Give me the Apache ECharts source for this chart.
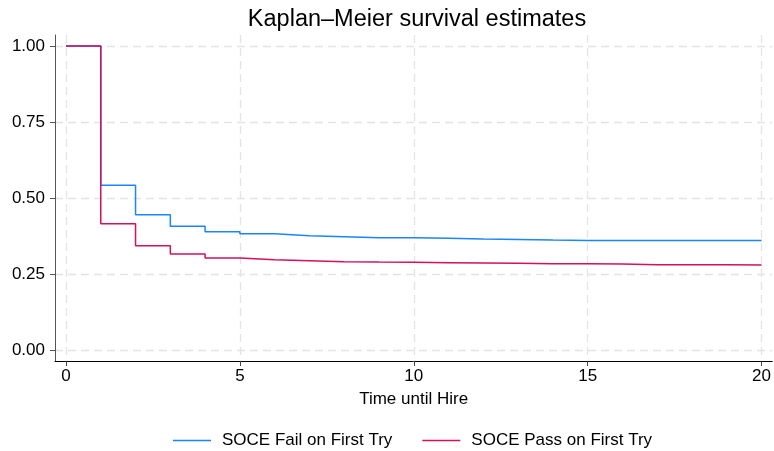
<!DOCTYPE html>
<html>
<head>
<meta charset="utf-8">
<script src="https://cdn.jsdelivr.net/npm/echarts@6/dist/echarts.min.js"></script>
<style>html,body{margin:0;padding:0;background:#fff}#c{width:774px;height:451px}</style>
</head>
<body>
<div id="c"></div>
<script>
var times = [0,1,2,3,4,5,6,7,8,9,10,11,12,13,14,15,16,17,18,19,20];
var failValues = [1.000,0.5425,0.446,0.408,0.390,0.383,0.377,0.3737,0.3704,0.3700,0.3685,0.3662,0.3645,0.3625,0.3615,0.3615,0.3615,0.3615,0.3615,0.3615,0.3615];
var passValues = [1.000,0.4165,0.344,0.317,0.3038,0.298,0.295,0.2916,0.2906,0.2897,0.2883,0.2874,0.2862,0.285,0.2845,0.284,0.2818,0.2818,0.2818,0.2808,0.2808];
var xTicks = [0,5,10,15,20];
var yTicks = [0,0.25,0.5,0.75,1];
var seriesNames = ['SOCE Fail on First Try','SOCE Pass on First Try'];
var colors = ['#1a85ff','#d41159'];

function pairs(vals){ return times.map(function(t,i){ return [t, vals[i]]; }); }

var FONT = 'Liberation Sans, Arial, sans-serif';
var chart = echarts.init(document.getElementById('c'), null, {renderer:'canvas'});
chart.setOption({
  animation:false,
  backgroundColor:'#fff',
  textStyle:{fontFamily:FONT},
  title:{text:'Kaplan\u2013Meier survival estimates', left:412, top:3, textAlign:'center',
    textStyle:{fontFamily:FONT, fontSize:23.5, fontWeight:'normal', color:'#000'}},
  legend:{left:168, top:427, itemWidth:38, itemHeight:10, itemGap:30,
    textStyle:{fontFamily:FONT, fontSize:17, color:'#000', padding:[0,0,0,6]},
    data:seriesNames.map(function(n,i){return {name:n, icon:'path://M0,0 L38,0 L38,1.4 L0,1.4 Z', itemStyle:{color:colors[i]}};})},
  grid:{left:55, right:1.3, top:35, bottom:90, containLabel:false},
  xAxis:{type:'value', min:-0.316, max:20.307,
    name:'Time until Hire', nameLocation:'middle', nameGap:30,
    nameTextStyle:{fontFamily:FONT, fontSize:17, color:'#000'},
    axisLine:{show:true, onZero:false, lineStyle:{color:'#000', width:1}},
    axisTick:{show:true, customValues:xTicks, length:5, lineStyle:{color:'#444'}},
    axisLabel:{customValues:xTicks, fontFamily:FONT, fontSize:17, color:'#000', margin:7},
    splitLine:{show:true, lineStyle:{color:'#e4e4e4', type:[8,5], width:1.3}}},
  yAxis:{type:'value', min:-0.0345, max:1.036,
    axisLine:{show:true, onZero:false, lineStyle:{color:'#555', width:1}},
    axisTick:{show:true, customValues:yTicks, length:5, lineStyle:{color:'#555'}},
    axisLabel:{customValues:yTicks, fontFamily:FONT, fontSize:17, color:'#000', margin:10,
      formatter:function(v){return v.toFixed(2);}},
    splitLine:{show:true, lineStyle:{color:'#e4e4e4', type:[8,5], width:1.3}}},
  series:[
    {name:seriesNames[0], type:'line', step:'end', data:pairs(failValues), symbol:'none',
      lineStyle:{color:colors[0], width:1.5}, itemStyle:{color:colors[0]}},
    {name:seriesNames[1], type:'line', step:'end', data:pairs(passValues), symbol:'none',
      lineStyle:{color:colors[1], width:1.5}, itemStyle:{color:colors[1]}}
  ]
});
</script>
</body>
</html>
